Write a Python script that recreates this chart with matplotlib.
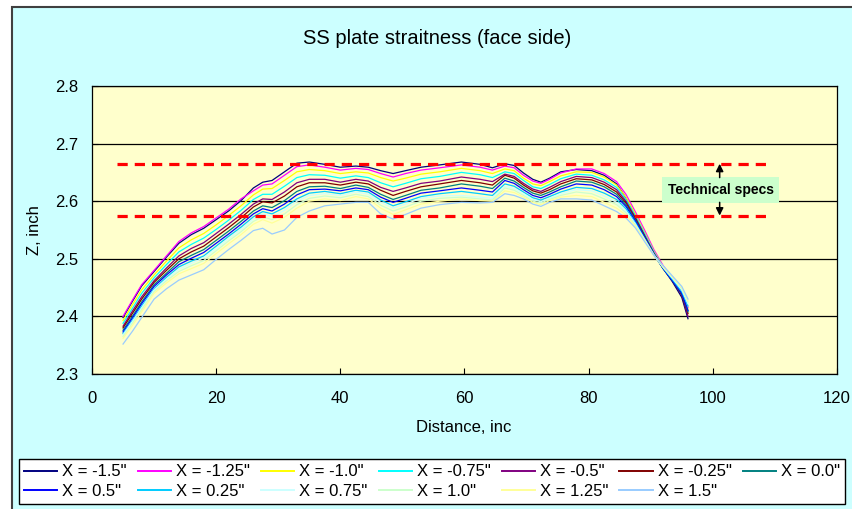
import matplotlib.pyplot as plt
from matplotlib.patches import Rectangle
from matplotlib.lines import Line2D

# %% data
dist = [5, 6.5, 8, 10, 12, 14, 16, 18, 20, 22, 24, 26,
        27.5, 29, 31, 33, 35, 37.5, 40, 42.5, 44.5, 46.5, 48.5, 50.5,
        53, 56, 59.5, 62.5, 64.5, 66.5, 68, 69.5, 71, 72.3, 73.7, 75.5,
        78, 80.5, 82.5, 84.5, 86, 87.5, 89, 90.5, 92, 93.5, 95, 96]

z_m150 = [2.398, 2.426, 2.453, 2.478, 2.503, 2.527, 2.542, 2.553, 2.568, 2.583, 2.601, 2.623,
          2.633, 2.636, 2.651, 2.666, 2.668, 2.664, 2.659, 2.661, 2.659, 2.653, 2.648, 2.653,
          2.659, 2.663, 2.668, 2.664, 2.658, 2.665, 2.662, 2.649, 2.638, 2.633, 2.640, 2.651,
          2.655, 2.653, 2.645, 2.630, 2.606, 2.575, 2.542, 2.510, 2.483, 2.460, 2.433, 2.396]
z_m125 = [2.400, 2.428, 2.455, 2.480, 2.505, 2.530, 2.545, 2.556, 2.571, 2.586, 2.604, 2.618,
          2.628, 2.630, 2.645, 2.660, 2.663, 2.659, 2.654, 2.657, 2.655, 2.648, 2.642, 2.648,
          2.654, 2.658, 2.663, 2.659, 2.654, 2.661, 2.658, 2.645, 2.635, 2.631, 2.638, 2.649,
          2.656, 2.656, 2.648, 2.634, 2.612, 2.582, 2.550, 2.516, 2.488, 2.466, 2.442, 2.415]
z_m100 = [2.393, 2.420, 2.446, 2.472, 2.496, 2.519, 2.533, 2.544, 2.559, 2.575, 2.592, 2.611,
          2.621, 2.622, 2.636, 2.651, 2.655, 2.653, 2.648, 2.651, 2.649, 2.641, 2.635, 2.640,
          2.647, 2.651, 2.657, 2.653, 2.648, 2.656, 2.653, 2.640, 2.630, 2.627, 2.634, 2.644,
          2.651, 2.650, 2.642, 2.628, 2.607, 2.578, 2.546, 2.513, 2.486, 2.464, 2.440, 2.412]
z_m075 = [2.388, 2.414, 2.440, 2.467, 2.490, 2.512, 2.525, 2.536, 2.551, 2.567, 2.584, 2.603,
          2.612, 2.612, 2.626, 2.641, 2.646, 2.645, 2.640, 2.644, 2.641, 2.632, 2.625, 2.631,
          2.639, 2.643, 2.650, 2.646, 2.641, 2.651, 2.648, 2.636, 2.625, 2.622, 2.629, 2.639,
          2.647, 2.645, 2.637, 2.624, 2.603, 2.575, 2.544, 2.512, 2.485, 2.463, 2.439, 2.410]
z_m050 = [2.383, 2.409, 2.434, 2.462, 2.484, 2.505, 2.518, 2.528, 2.544, 2.560, 2.577, 2.595,
          2.604, 2.603, 2.616, 2.632, 2.638, 2.638, 2.633, 2.638, 2.635, 2.624, 2.617, 2.623,
          2.631, 2.635, 2.642, 2.638, 2.634, 2.647, 2.643, 2.631, 2.621, 2.617, 2.624, 2.634,
          2.643, 2.641, 2.633, 2.620, 2.600, 2.572, 2.541, 2.510, 2.484, 2.462, 2.437, 2.400]
z_m025 = [2.380, 2.405, 2.430, 2.459, 2.480, 2.500, 2.512, 2.522, 2.538, 2.554, 2.571, 2.590,
          2.599, 2.597, 2.609, 2.625, 2.632, 2.632, 2.628, 2.633, 2.630, 2.619, 2.610, 2.617,
          2.625, 2.630, 2.636, 2.632, 2.628, 2.645, 2.640, 2.628, 2.618, 2.614, 2.620, 2.630,
          2.639, 2.637, 2.629, 2.616, 2.597, 2.570, 2.539, 2.509, 2.484, 2.462, 2.438, 2.405]
z_000 = [2.376, 2.400, 2.425, 2.455, 2.475, 2.495, 2.506, 2.516, 2.532, 2.548, 2.565, 2.583,
         2.592, 2.589, 2.601, 2.617, 2.625, 2.626, 2.622, 2.628, 2.624, 2.612, 2.603, 2.610,
         2.619, 2.623, 2.630, 2.626, 2.622, 2.640, 2.635, 2.624, 2.614, 2.610, 2.616, 2.625,
         2.635, 2.633, 2.625, 2.612, 2.594, 2.568, 2.538, 2.508, 2.483, 2.462, 2.439, 2.408]
z_p050 = [2.373, 2.397, 2.422, 2.452, 2.472, 2.490, 2.501, 2.511, 2.527, 2.543, 2.560, 2.578,
          2.587, 2.583, 2.595, 2.611, 2.620, 2.621, 2.618, 2.623, 2.620, 2.607, 2.598, 2.605,
          2.614, 2.618, 2.623, 2.619, 2.616, 2.636, 2.631, 2.620, 2.610, 2.606, 2.612, 2.621,
          2.630, 2.628, 2.620, 2.608, 2.591, 2.566, 2.537, 2.508, 2.483, 2.462, 2.440, 2.410]
z_p025 = [2.370, 2.393, 2.418, 2.448, 2.468, 2.486, 2.496, 2.505, 2.522, 2.539, 2.555, 2.573,
          2.582, 2.578, 2.589, 2.604, 2.614, 2.617, 2.613, 2.619, 2.616, 2.602, 2.592, 2.599,
          2.608, 2.613, 2.617, 2.613, 2.610, 2.630, 2.626, 2.616, 2.606, 2.602, 2.608, 2.616,
          2.624, 2.622, 2.614, 2.603, 2.587, 2.563, 2.535, 2.507, 2.484, 2.464, 2.443, 2.418]
z_p075 = [2.368, 2.391, 2.415, 2.446, 2.465, 2.482, 2.492, 2.502, 2.518, 2.535, 2.551, 2.569,
          2.578, 2.573, 2.584, 2.600, 2.610, 2.613, 2.610, 2.616, 2.612, 2.598, 2.588, 2.595,
          2.605, 2.609, 2.610, 2.607, 2.605, 2.626, 2.622, 2.613, 2.603, 2.599, 2.605, 2.613,
          2.620, 2.618, 2.609, 2.598, 2.583, 2.561, 2.534, 2.507, 2.485, 2.466, 2.446, 2.422]
z_p100 = [2.365, 2.388, 2.412, 2.443, 2.462, 2.478, 2.488, 2.497, 2.514, 2.531, 2.547, 2.565,
          2.573, 2.568, 2.578, 2.594, 2.605, 2.609, 2.606, 2.612, 2.608, 2.593, 2.583, 2.590,
          2.600, 2.605, 2.607, 2.604, 2.602, 2.623, 2.619, 2.610, 2.600, 2.597, 2.603, 2.610,
          2.616, 2.613, 2.604, 2.594, 2.580, 2.559, 2.533, 2.506, 2.486, 2.467, 2.448, 2.425]
z_p125 = [2.362, 2.384, 2.408, 2.440, 2.458, 2.474, 2.483, 2.492, 2.509, 2.526, 2.542, 2.560,
          2.568, 2.562, 2.572, 2.588, 2.600, 2.604, 2.601, 2.608, 2.604, 2.588, 2.577, 2.585,
          2.595, 2.600, 2.604, 2.601, 2.600, 2.618, 2.615, 2.607, 2.598, 2.594, 2.601, 2.607,
          2.610, 2.608, 2.598, 2.588, 2.576, 2.557, 2.532, 2.506, 2.486, 2.468, 2.450, 2.427]
z_p150 = [2.352, 2.374, 2.398, 2.430, 2.448, 2.463, 2.472, 2.481, 2.499, 2.516, 2.532, 2.549,
          2.553, 2.543, 2.550, 2.572, 2.583, 2.592, 2.595, 2.598, 2.598, 2.578, 2.569, 2.577,
          2.588, 2.594, 2.598, 2.597, 2.598, 2.613, 2.610, 2.604, 2.595, 2.591, 2.598, 2.604,
          2.604, 2.602, 2.592, 2.582, 2.571, 2.554, 2.530, 2.506, 2.488, 2.470, 2.452, 2.430]

labels = ['X = -1.5"', 'X = -1.25"', 'X = -1.0"', 'X = -0.75"', 'X = -0.5"',
          'X = -0.25"', 'X = 0.0"', 'X = 0.5"', 'X = 0.25"', 'X = 0.75"',
          'X = 1.0"', 'X = 1.25"', 'X = 1.5"']
colors = ['#000080', '#ff00ff', '#ffff00', '#00ffff', '#800080', '#800000',
          '#008080', '#0000ff', '#00ccff', '#ccffff', '#ccffcc', '#ffff99', '#99ccff']
series = [z_m150, z_m125, z_m100, z_m075, z_m050, z_m025, z_000,
          z_p050, z_p025, z_p075, z_p100, z_p125, z_p150]

spec_hi = 2.665
spec_lo = 2.575
spec_x = [4, 109]

# %%
plt.rcParams['font.family'] = ['Liberation Sans', 'DejaVu Sans']

W, H = 853, 509
fig = plt.figure(figsize=(W / 100, H / 100), dpi=100, facecolor='white')
fig.add_artist(Rectangle((12 / W, -0.05), 1.2, 1 - 7 / H + 0.05,
                         transform=fig.transFigure, facecolor='#ccffff',
                         edgecolor='#404040', lw=1.5, zorder=0))

ax = fig.add_axes([92 / W, 1 - 374 / H, (837 - 92) / W, (374 - 86) / H])
ax.set_facecolor('#ffffcc')

for z, c in zip(series, colors):
    ax.plot(dist, z, color=c, lw=0.9)

ax.plot(spec_x, [spec_hi, spec_hi], color='red', lw=2.3, dashes=(3.2, 2.2), zorder=5)
ax.plot(spec_x, [spec_lo, spec_lo], color='red', lw=2.3, dashes=(3.2, 2.2), zorder=5)

ax.text(101.3, 2.6195, 'Technical specs', ha='center', va='center', fontsize=10,
        fontweight='bold', zorder=6,
        bbox=dict(boxstyle='square,pad=0.4', facecolor='#ccffcc', edgecolor='none'))
ax.annotate('', xy=(101.1, spec_hi), xytext=(101.1, 2.641),
            arrowprops=dict(arrowstyle='-|>', color='black', lw=1.1, mutation_scale=11,
                            shrinkA=0, shrinkB=0), zorder=6)
ax.annotate('', xy=(101.1, spec_lo), xytext=(101.1, 2.598),
            arrowprops=dict(arrowstyle='-|>', color='black', lw=1.1, mutation_scale=11,
                            shrinkA=0, shrinkB=0), zorder=6)

ax.set_xlim(0, 120)
ax.set_ylim(2.3, 2.8)
ax.set_xticks(range(0, 121, 20))
ax.set_yticks([2.3, 2.4, 2.5, 2.6, 2.7, 2.8])
ax.set_yticklabels(['2.3', '2.4', '2.5', '2.6', '2.7', '2.8'])
ax.grid(axis='y', color='black', lw=0.9)
ax.set_axisbelow(True)
ax.tick_params(axis='x', direction='in', length=4, labelsize=12, pad=12)
ax.tick_params(axis='y', direction='in', length=4, labelsize=12, pad=10)
for s in ax.spines.values():
    s.set_color('black')
    s.set_linewidth(0.9)

fig.text(437 / W, 1 - 38 / H, 'SS plate straitness (face side)', ha='center', va='center',
         fontsize=14.5)
fig.text(35 / W, 1 - 230 / H, 'Z, inch', rotation=90, ha='center', va='center', fontsize=12)
fig.text(464 / W, 1 - 428 / H, 'Distance, inc', ha='center', va='center', fontsize=12)

# legend in row order like the original (matplotlib fills column-wise)
handles = [Line2D([], [], color=c, lw=1.4) for c in colors]
order = [0, 7, 1, 8, 2, 9, 3, 10, 4, 11, 5, 12, 6]
fig.legend([handles[i] for i in order], [labels[i] for i in order],
           loc='center', bbox_to_anchor=(19 / W, 4 / H, 826 / W, 47 / H), mode='expand',
           ncol=7, fontsize=12, frameon=True, fancybox=False, edgecolor='black',
           facecolor='white', framealpha=1, borderaxespad=0, handlelength=2.0,
           handletextpad=0.3, labelspacing=0.25, borderpad=0.3)

fig.savefig('out.png', dpi=100)
